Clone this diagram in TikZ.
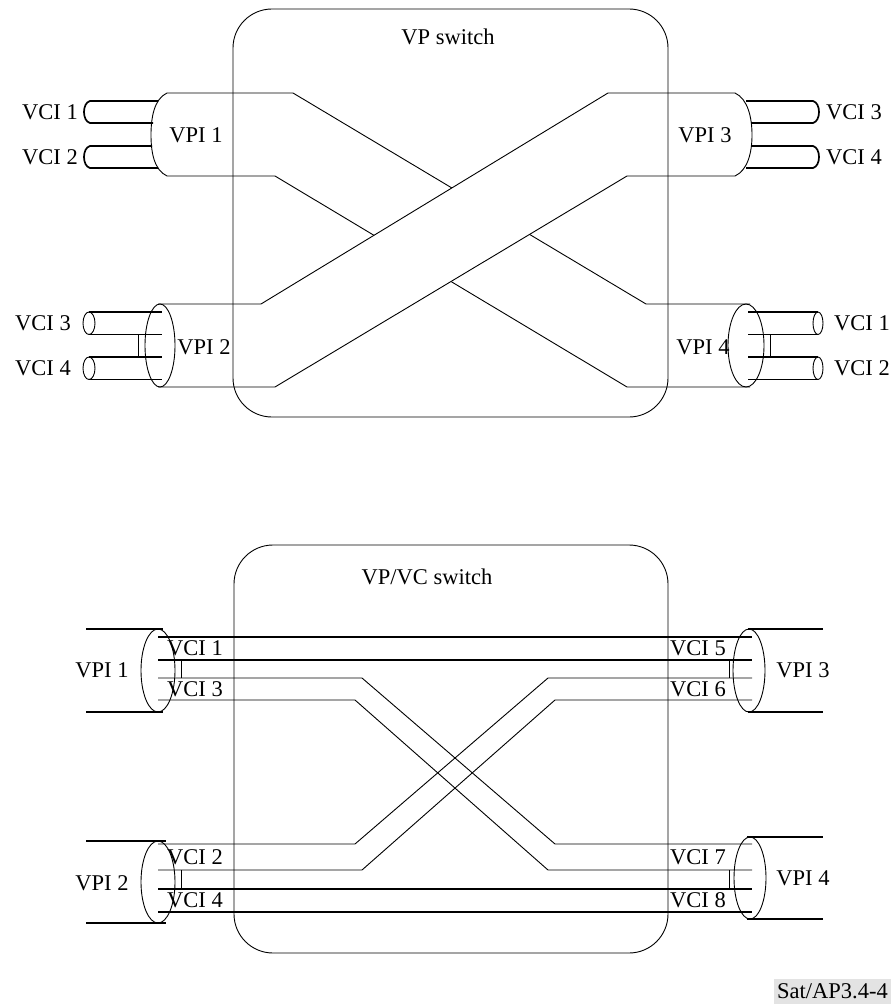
\documentclass[tikz,border=0pt]{standalone}
\usepackage{fontspec}
\setmainfont{Liberation Serif}
\begin{document}
\begin{tikzpicture}[x=1pt,y=-1pt,
  wire/.style={line width=0.9pt},
  tube/.style={line width=1.7pt},
  lbl/.style={inner sep=0pt, font=\fontsize{22.5}{26}\selectfont},
  swbox/.style={line width=0.9pt, rounded corners=39pt}]
\useasboundingbox (0,0) rectangle (896,1006);

% ================= TOP: VP switch =================
% back band VPI1 -> VPI4
\draw[wire] (167,93) -- (293,93) -- (646,304) -- (750,304);
\draw[wire] (167,176) -- (275,176) -- (627,387) -- (750,387);
% front band VPI2 -> VPI3
\fill[white] (261,304) -- (608,93) -- (627,176) -- (275,387) -- cycle;
\draw[wire] (158,304) -- (261,304) -- (608,93) -- (735,93);
\draw[wire] (158,387) -- (275,387) -- (627,176) -- (735,176);
% switch box
\draw[swbox] (233,9) rectangle (668,417);
\node[lbl] (t1) at (448,37) {VP switch};

% VPI 1 bundle end (left, top)
\draw[wire] (167,93) .. controls (154,99) and (151,118) .. (151,135) .. controls (151,152) and (154,170) .. (167,176);
\draw[tube] (158,101) -- (90,101) .. controls (82,103) and (82,121) .. (90,123) -- (153,123);
\draw[tube] (152,146) -- (90,146) .. controls (82,148) and (82,166) .. (90,168) -- (158,168);
\node[lbl,anchor=east] (a1) at (78,112) {VCI 1};
\node[lbl,anchor=east] (a2) at (78,157) {VCI 2};
\node[lbl] (p1) at (196,135) {VPI 1};

% VPI 3 bundle end (right, top)
\draw[wire] (735,93) .. controls (748,99) and (752,118) .. (752,135) .. controls (752,152) and (748,170) .. (735,176);
\draw[tube] (746,101) -- (813,101) .. controls (821,103) and (821,121) .. (813,123) -- (751,123);
\draw[tube] (752,146) -- (813,146) .. controls (821,148) and (821,166) .. (813,168) -- (746,168);
\node[lbl,anchor=west] (a3) at (826,112) {VCI 3};
\node[lbl,anchor=west] (a4) at (826,157) {VCI 4};
\node[lbl] (p3) at (705,135) {VPI 3};

% VPI 2 bundle end (left, bottom)
\draw[wire] (160,345.5) ellipse [x radius=15, y radius=41.5];
\draw[tube] (89,312) -- (162,312);
\draw[tube] (89,334.5) -- (162,334.5);
\draw[tube] (89,357) -- (162,357);
\draw[tube] (89,379.5) -- (162,379.5);
\draw[wire] (89,323.25) ellipse [x radius=6, y radius=11.25];
\draw[wire] (89,368.25) ellipse [x radius=6, y radius=11.25];
\draw[wire] (138,334.5) -- (138,357);
\node[lbl,anchor=east] (b3) at (71,323) {VCI 3};
\node[lbl,anchor=east] (b4) at (71,368) {VCI 4};
\node[lbl] (p2) at (204,347) {VPI 2};

% VPI 4 bundle end (right, bottom)
\draw[wire] (746,345.5) ellipse [x radius=18, y radius=41.5];
\draw[tube] (748,312) -- (818,312);
\draw[tube] (748,334.5) -- (818,334.5);
\draw[tube] (748,357) -- (818,357);
\draw[tube] (748,379.5) -- (818,379.5);
\draw[wire] (818,323.25) ellipse [x radius=5, y radius=11.25];
\draw[wire] (818,368.25) ellipse [x radius=5, y radius=11.25];
\draw[wire] (770,334.5) -- (770,357);
\node[lbl,anchor=west] (b1) at (834,323) {VCI 1};
\node[lbl,anchor=west] (b2) at (834,368) {VCI 2};
\node[lbl] (p4) at (703,347) {VPI 4};

% ================= BOTTOM: VP/VC switch =================
% straight through channels
\draw[tube] (158,637) -- (752,637);
\draw[tube] (158,660) -- (752,660);
\draw[tube] (158,889) -- (752,889);
\draw[tube] (158,912) -- (752,912);
% crossing channels
\draw[wire] (158,678) -- (362,678) -- (555,844) -- (752,844);
\draw[wire] (158,700) -- (355,700) -- (548,870) -- (752,870);
\draw[wire] (158,844) -- (355,844) -- (548,678) -- (752,678);
\draw[wire] (158,870) -- (362,870) -- (555,700) -- (752,700);
% separators
\draw[wire] (181,660) -- (181,678);
\draw[wire] (729,660) -- (729,678);
\draw[wire] (181,870) -- (181,889);
\draw[wire] (729,870) -- (729,889);

\draw[swbox] (234,545) rectangle (668,953);
\node[lbl] (t2) at (427,577) {VP/VC switch};

% outer bundles
\draw[tube] (86,629) -- (163,629);
\draw[tube] (86,712) -- (163,712);
\draw[wire] (158,670.5) ellipse [x radius=17, y radius=41.5];
\draw[tube] (748,629) -- (823,629);
\draw[tube] (748,712) -- (823,712);
\draw[wire] (749,670.5) ellipse [x radius=16, y radius=41.5];
\draw[tube] (86,841) -- (166,841);
\draw[tube] (86,923) -- (166,923);
\draw[wire] (158,882) ellipse [x radius=17, y radius=41];
\draw[tube] (747,837) -- (823,837);
\draw[tube] (747,919) -- (823,919);
\draw[wire] (750,878) ellipse [x radius=16, y radius=41];

\node[lbl] (q1) at (102,670) {VPI 1};
\node[lbl] (q3) at (803,670) {VPI 3};
\node[lbl] (q2) at (102,883) {VPI 2};
\node[lbl] (q4) at (803,878) {VPI 4};

\node[lbl,anchor=west] (c1) at (167,648.5) {VCI 1};
\node[lbl,anchor=west] (c3) at (167,689) {VCI 3};
\node[lbl,anchor=west] (c2) at (167,857) {VCI 2};
\node[lbl,anchor=west] (c4) at (167,900.5) {VCI 4};
\node[lbl,anchor=west] (c5) at (670,648.5) {VCI 5};
\node[lbl,anchor=west] (c6) at (670,689) {VCI 6};
\node[lbl,anchor=west] (c7) at (670,857) {VCI 7};
\node[lbl,anchor=west] (c8) at (670,900.5) {VCI 8};

\node[lbl,anchor=east,fill=gray!22,inner xsep=3pt,inner ysep=5pt] (ref) at (891,991.5) {Sat/AP3.4-4};
\end{tikzpicture}
\end{document}
